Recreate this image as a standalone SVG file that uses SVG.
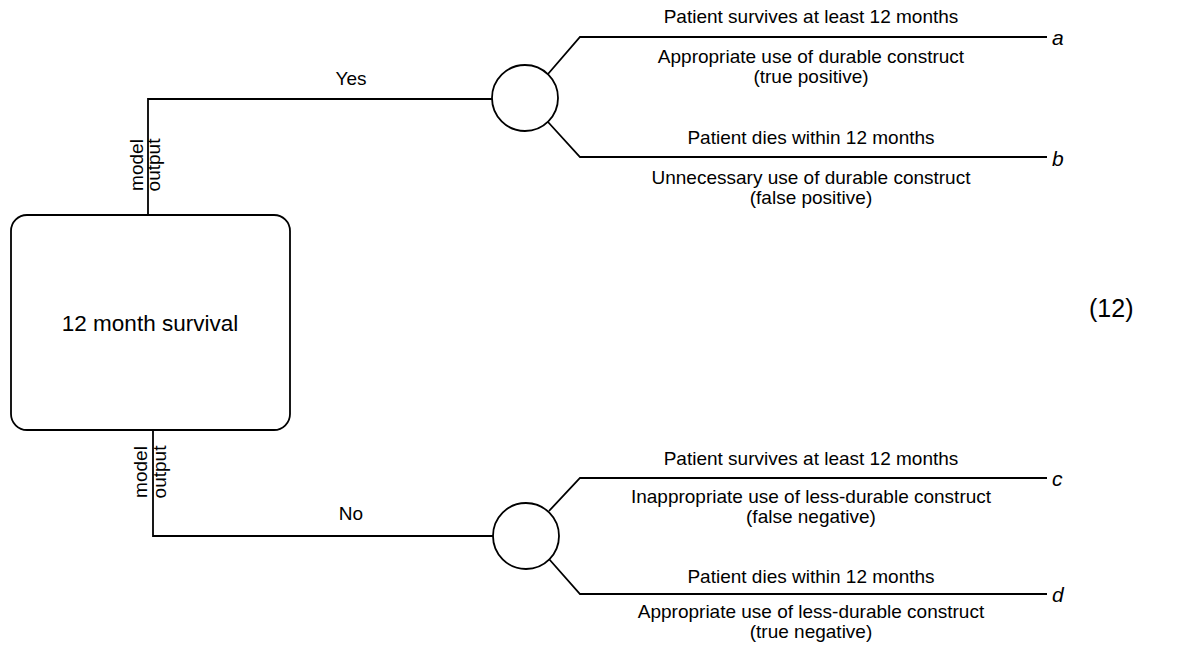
<svg xmlns="http://www.w3.org/2000/svg" width="1177" height="647" viewBox="0 0 1177 647">
<style>
.ln{fill:none;stroke:#000;stroke-width:1.8}
.t{font-family:"Liberation Sans",Arial,sans-serif;font-size:19px;fill:#000}
.c{text-anchor:middle}
.it{font-family:"Liberation Sans",Arial,sans-serif;font-size:21px;font-style:italic;fill:#000}
</style>
<rect width="1177" height="647" fill="#fff"/>
<g id="connectors">
<polyline class="ln" points="148,215 148,99 492,99"/>
<polyline class="ln" points="153,430 153,536 493,536"/>
<polyline class="ln" points="548,74 580,37 1047,37"/>
<polyline class="ln" points="548,122 580,157 1047,157"/>
<polyline class="ln" points="549,511 580,478 1047,478"/>
<polyline class="ln" points="549,559 580,594 1047,594"/>
<text class="t c" x="351" y="85">Yes</text>
<text class="t c" x="351" y="520">No</text>
<text class="t c" transform="translate(143,165) rotate(-90)">model</text>
<text class="t c" transform="translate(160,165) rotate(-90)">output</text>
<text class="t c" transform="translate(147,472) rotate(-90)">model</text>
<text class="t c" transform="translate(166,472) rotate(-90)">output</text>
</g>
<g id="box">
<rect class="ln" x="11" y="215" width="279" height="215" rx="16"/>
<text class="t c" x="150" y="331" style="font-size:22.5px">12 month survival</text>
</g>
<g id="chance-yes">
<circle class="ln" cx="525" cy="98" r="33"/>
</g>
<g id="chance-no">
<circle class="ln" cx="526" cy="536" r="33"/>
</g>
<g id="outcome-a">
<text class="t c" x="811" y="23">Patient survives at least 12 months</text>
<text class="t c" x="811" y="63">Appropriate use of durable construct</text>
<text class="t c" x="811" y="83">(true positive)</text>
<text class="it" x="1052" y="45">a</text>
</g>
<g id="outcome-b">
<text class="t c" x="811" y="144">Patient dies within 12 months</text>
<text class="t c" x="811" y="184">Unnecessary use of durable construct</text>
<text class="t c" x="811" y="204">(false positive)</text>
<text class="it" x="1052" y="166">b</text>
</g>
<g id="outcome-c">
<text class="t c" x="811" y="465">Patient survives at least 12 months</text>
<text class="t c" x="811" y="503">Inappropriate use of less-durable construct</text>
<text class="t c" x="811" y="523">(false negative)</text>
<text class="it" x="1052" y="486">c</text>
</g>
<g id="outcome-d">
<text class="t c" x="811" y="583">Patient dies within 12 months</text>
<text class="t c" x="811" y="618">Appropriate use of less-durable construct</text>
<text class="t c" x="811" y="638">(true negative)</text>
<text class="it" x="1052" y="602">d</text>
</g>
<text class="t" x="1089" y="317" style="font-size:25px">(12)</text>
</svg>
